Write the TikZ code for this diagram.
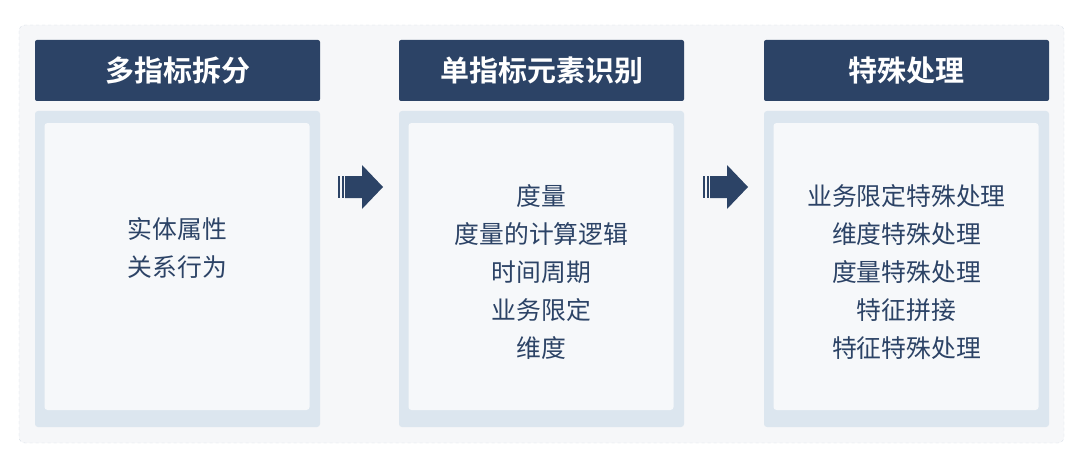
\documentclass[tikz,border=0pt]{standalone}
\usepackage{fontspec}
\setmainfont{Noto Sans CJK SC}
\newfontfamily\headfont{Noto Sans CJK SC}[UprightFont=* Bold]
\usetikzlibrary{calc}

\definecolor{navy}{HTML}{2C4366}
\definecolor{panelblue}{HTML}{DCE6EF}
\definecolor{panelin}{HTML}{F6F8FA}
\definecolor{bggray}{HTML}{F6F7F9}
\definecolor{bordergray}{HTML}{D6DDE6}

\begin{document}
\begin{tikzpicture}[x=1pt,y=-1pt,
    headbox/.style={fill=navy, rounded corners=2pt, minimum width=285pt, minimum height=61pt,
      text=white, font=\headfont\fontsize{29}{32}\selectfont, inner sep=0pt},
    panelbox/.style={fill=panelblue, rounded corners=3pt, minimum width=285pt, minimum height=316pt, inner sep=0pt},
    innerbox/.style={fill=panelin, rounded corners=3pt, minimum width=265pt, minimum height=287pt, inner sep=0pt},
    itemtext/.style={text=navy, align=center, font=\fontsize{24.8}{38}\selectfont, inner sep=0pt}]
    % --- 1. 底板 (虛線框) ---
    \useasboundingbox (0,0) rectangle (1080,460);
    \draw[dashed, draw=bordergray, fill=bggray, rounded corners=6pt] (19,25) rectangle (1064,443);

    % --- 2. 三列: 標題, 外框, 內框, 文字 ---
    \foreach \x/\n/\h/\ty/\t in {
        177.5/A/多指标拆分/248.5/{实体属性\\关系行为},
        541.5/B/单指标元素识别/272.5/{度量\\度量的计算逻辑\\时间周期\\业务限定\\维度},
        906.5/C/特殊处理/272.5/{业务限定特殊处理\\维度特殊处理\\度量特殊处理\\特征拼接\\特征特殊处理}} {
      \node[headbox] (head\n) at (\x,70.5) {\h};
      \node[panelbox] (panel\n) at (\x,269) {};
      \node[innerbox] (inner\n) at (\x-0.5,266.5) {};
      \node[itemtext] (text\n) at (\x,\ty) {\t};
    }

    % --- 3. 列間箭頭 ---
    \foreach \ax in {338,703} {
      \begin{scope}[shift={(\ax,187)}]
        \fill[navy] (0,-11) rectangle (2,11);
        \fill[navy] (4,-11) rectangle (6,11);
        \fill[navy] (7,-11) -- (24,-11) -- (24,-22) -- (45,0) -- (24,22) -- (24,11) -- (7,11) -- cycle;
      \end{scope}
    }
  \end{tikzpicture}
\end{document}
